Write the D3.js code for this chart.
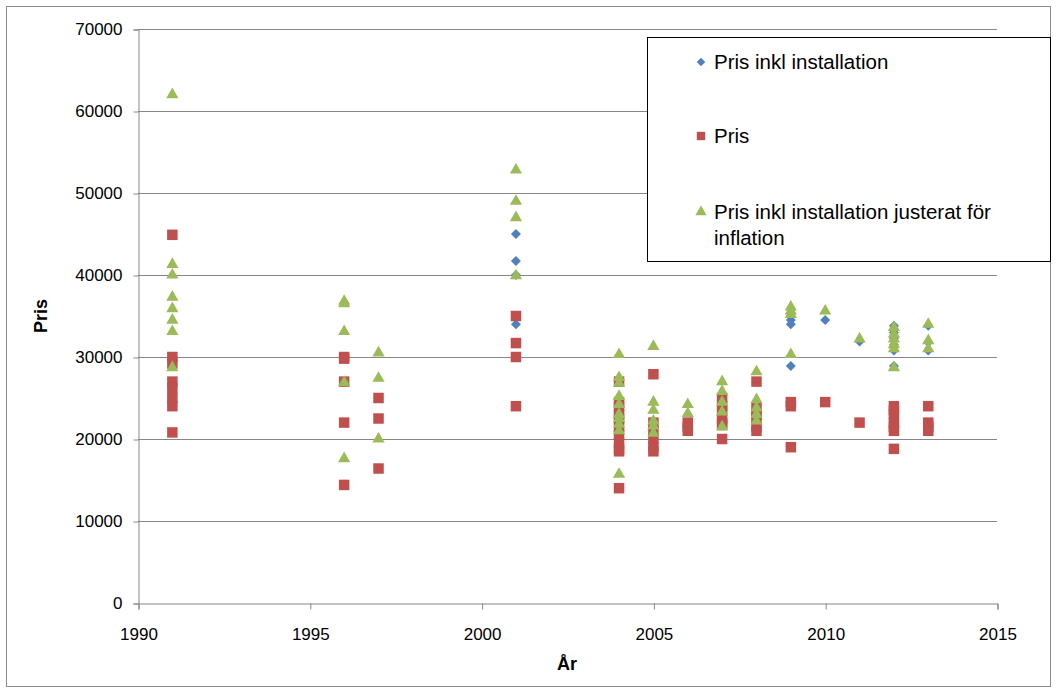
<!DOCTYPE html>
<html>

<head>
    <meta charset="utf-8">
    <title>Pris per år</title>
    <script src="https://d3js.org/d3.v7.min.js"></script>
    <style>
        body { margin: 0; background: #fff; }
        svg text { font-family: "Liberation Sans", Arial, sans-serif; fill: #000; }
    </style>
</head>

<body>
    <svg id="chart"></svg>

    <script>
        // Series: "Pris inkl installation" (blue diamonds)
        const prisInklYears = [2001, 2001, 2001, 2001,
            2009, 2009, 2009, 2009, 2010, 2011,
            2012, 2012, 2012, 2012, 2012, 2012,
            2013, 2013, 2013];
        const prisInklValues = [45000, 41700, 40000, 34000,
            35000, 34500, 34000, 28900, 34500, 31900,
            33800, 33000, 32300, 31500, 30800, 28900,
            33800, 31800, 30800];

        // Series: "Pris" (red squares)
        const prisYears = [1991, 1991, 1991, 1991, 1991, 1991, 1991, 1991,
            1996, 1996, 1996, 1996, 1996, 1997, 1997, 1997,
            2001, 2001, 2001, 2001,
            2004, 2004, 2004, 2004, 2004, 2004, 2004, 2004, 2004, 2004, 2004,
            2005, 2005, 2005, 2005, 2005, 2005,
            2006, 2006, 2006,
            2007, 2007, 2007, 2007, 2007, 2007, 2007,
            2008, 2008, 2008, 2008, 2008, 2008,
            2009, 2009, 2009, 2010, 2011,
            2012, 2012, 2012, 2012, 2012, 2012, 2012,
            2013, 2013, 2013, 2013];
        const prisValues = [44900, 30000, 29200, 27000, 26200, 25000, 24000, 20800,
            30000, 29800, 27000, 22000, 14400, 25000, 22500, 16400,
            35000, 31700, 30000, 24000,
            27000, 24500, 24000, 23000, 22500, 21500, 20500, 19500, 18800, 18500, 14000,
            27900, 22000, 21000, 20000, 19000, 18500,
            22000, 21500, 21000,
            25000, 24000, 23500, 22500, 22000, 21700, 20000,
            27000, 23800, 23000, 22500, 21500, 21000,
            24500, 24000, 19000, 24500, 22000,
            24000, 23500, 23000, 22000, 21500, 21000, 18800,
            24000, 22000, 21500, 21000];

        // Series: "Pris inkl installation justerat för inflation" (green triangles)
        const justeratYears = [1991, 1991, 1991, 1991, 1991, 1991, 1991, 1991,
            1996, 1996, 1996, 1996, 1996, 1997, 1997, 1997,
            2001, 2001, 2001, 2001,
            2004, 2004, 2004, 2004, 2004, 2004, 2004, 2004, 2004, 2004,
            2005, 2005, 2005, 2005, 2005, 2005,
            2006, 2006,
            2007, 2007, 2007, 2007, 2007,
            2008, 2008, 2008, 2008, 2008,
            2009, 2009, 2009, 2009, 2010, 2011,
            2012, 2012, 2012, 2012, 2012, 2012,
            2013, 2013, 2013];
        const justeratValues = [62000, 41300, 40000, 37300, 35900, 34500, 33100, 28700,
            36800, 36500, 33100, 26900, 17600, 30500, 27400, 20000,
            52800, 49000, 47000, 39900,
            30300, 27500, 26800, 25200, 24200, 23000, 22500, 21800, 21000, 15700,
            31300, 24500, 23500, 22200, 21600, 20700,
            24200, 23100,
            27000, 25800, 24500, 23300, 21500,
            28200, 24800, 23800, 23000, 22200,
            36100, 35600, 35200, 30300, 35600, 32200,
            33600, 32800, 32200, 31500, 31000, 28700,
            34000, 32000, 31000];

        const xTicks = [1990, 1995, 2000, 2005, 2010, 2015];
        const yTicks = [0, 10000, 20000, 30000, 40000, 50000, 60000, 70000];

        const width = 1057;
        const height = 693;
        const plot = { left: 138, right: 997, top: 29, bottom: 603 };

        const svg = d3.select('#chart')
            .attr('width', width)
            .attr('height', height);

        // outer chart border
        svg.append('rect')
            .attr('x', 6.5).attr('y', 6.5)
            .attr('width', 1044).attr('height', 680)
            .attr('fill', '#fff')
            .attr('stroke', '#8c8c8c');

        const x = d3.scaleLinear().domain([1990, 2015]).range([plot.left, plot.right]);
        const y = d3.scaleLinear().domain([0, 70000]).range([plot.bottom, plot.top]);

        // gridlines
        svg.append('g')
            .selectAll('line')
            .data(yTicks.slice(1))
            .enter().append('line')
            .attr('x1', plot.left).attr('x2', plot.right)
            .attr('y1', d => Math.round(y(d)) + 0.5)
            .attr('y2', d => Math.round(y(d)) + 0.5)
            .attr('stroke', '#868686');

        // y axis
        const yAxis = svg.append('g')
            .attr('transform', `translate(${plot.left + 0.5},0.5)`)
            .call(d3.axisLeft(y).tickValues(yTicks).tickSize(5).tickPadding(11).tickFormat(d3.format('d')));
        yAxis.select('.domain').attr('stroke', '#868686');
        yAxis.selectAll('.tick line').attr('stroke', '#868686');
        yAxis.selectAll('text').style('font-size', '17px').attr('fill', '#000');

        // x axis
        const xAxis = svg.append('g')
            .attr('transform', `translate(0.5,${plot.bottom + 0.5})`)
            .call(d3.axisBottom(x).tickValues(xTicks).tickSize(6).tickPadding(18).tickFormat(d3.format('d')));
        xAxis.select('.domain').attr('stroke', '#868686');
        xAxis.selectAll('.tick line').attr('stroke', '#868686');
        xAxis.selectAll('text').style('font-size', '17px').attr('fill', '#000');

        // axis titles
        svg.append('text')
            .attr('x', 567).attr('y', 670)
            .attr('text-anchor', 'middle')
            .style('font-size', '18px').style('font-weight', 'bold')
            .text('År');

        svg.append('text')
            .attr('transform', 'translate(47,316) rotate(-90)')
            .attr('text-anchor', 'middle')
            .style('font-size', '18px').style('font-weight', 'bold')
            .text('Pris');

        // diamonds are squares turned 45 degrees
        const diamond = d3.symbol().type(d3.symbolSquare).size(50)();
        const square = d3.symbol().type(d3.symbolSquare).size(110)();
        const triangle = d3.symbol().type(d3.symbolTriangle).size(65)();

        const blue = '#4f81bd', red = '#c0504d', green = '#9bbb59';

        function drawSeries(years, values, path, color, rot) {
            svg.append('g')
                .selectAll('path')
                .data(years.map((yr, i) => ({ yr: yr, v: values[i] })))
                .enter().append('path')
                .attr('d', path)
                .attr('fill', color)
                .attr('transform', d => `translate(${x(d.yr)},${y(d.v)}) rotate(${rot})`);
        }

        drawSeries(prisInklYears, prisInklValues, diamond, blue, 45);
        drawSeries(prisYears, prisValues, square, red, 0);
        drawSeries(justeratYears, justeratValues, triangle, green, 0);

        // legend
        const legend = svg.append('g');
        legend.append('rect')
            .attr('x', 647.5).attr('y', 37.5)
            .attr('width', 403).attr('height', 224)
            .attr('fill', '#fff')
            .attr('stroke', '#000');

        const legendItems = [
            { sym: d3.symbol().type(d3.symbolSquare).size(36)(), rot: 45, color: blue, y: 62, lines: ['Pris inkl installation'] },
            { sym: d3.symbol().type(d3.symbolSquare).size(70)(), rot: 0, color: red, y: 136, lines: ['Pris'] },
            { sym: d3.symbol().type(d3.symbolTriangle).size(55)(), rot: 0, color: green, y: 212, lines: ['Pris inkl installation justerat för', 'inflation'] }
        ];

        legendItems.forEach(item => {
            legend.append('path')
                .attr('d', item.sym)
                .attr('fill', item.color)
                .attr('transform', `translate(701,${item.y}) rotate(${item.rot})`);
            item.lines.forEach((line, i) => {
                legend.append('text')
                    .attr('x', 714)
                    .attr('y', item.y + 7 + i * 26)
                    .style('font-size', '20.5px')
                    .text(line);
            });
        });
    </script>
</body>

</html>
